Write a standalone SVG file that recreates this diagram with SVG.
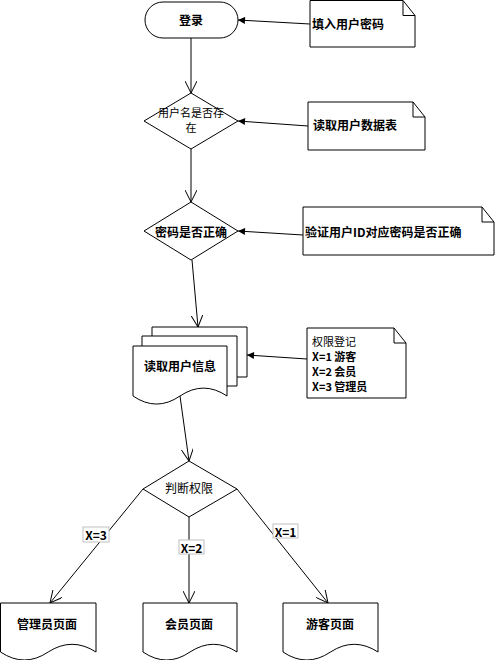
<svg xmlns="http://www.w3.org/2000/svg" width="495" height="660" viewBox="0 0 495 660">
  <style>
    .shape { fill: #ffffff; stroke: #000000; stroke-width: 1; }
    .edge { fill: none; stroke: #000000; stroke-width: 1; }
    .flow { marker-end: url(#open); }
    .link { marker-end: url(#solid); }
    text { font-family: "Noto Sans CJK SC", "DejaVu Sans", sans-serif; font-size: 12px; fill: #000000; }
    .b { font-weight: bold; }
    .s { font-size: 11px; }
    .c { text-anchor: middle; dominant-baseline: central; }
    .l { dominant-baseline: central; }
    .tag { fill: #ffffff; stroke: #c0c0c0; stroke-width: 1; }
  </style>
  <defs>
    <marker id="open" viewBox="0 0 12 12" refX="12" refY="6" markerWidth="12" markerHeight="12" markerUnits="userSpaceOnUse" orient="auto">
      <path d="M0,0 L12,6 L0,12" fill="none" stroke="#000000" stroke-width="1"/>
    </marker>
    <marker id="solid" viewBox="0 0 8 8" refX="8" refY="4" markerWidth="8" markerHeight="7" markerUnits="userSpaceOnUse" orient="auto">
      <path d="M0,0 L8,4 L0,8 Z" fill="#000000"/>
    </marker>
  </defs>

  <!-- connectors -->
  <g id="connectors">
    <line class="edge flow" x1="191" y1="38" x2="191" y2="93"/>
    <line class="edge flow" x1="191" y1="149" x2="191" y2="202"/>
    <line class="edge flow" x1="192" y1="260" x2="198" y2="327"/>
    <line class="edge flow" x1="180" y1="396" x2="189" y2="461"/>
    <line class="edge flow" x1="143" y1="489" x2="50" y2="603"/>
    <line class="edge flow" x1="189" y1="517" x2="189" y2="603"/>
    <line class="edge flow" x1="237" y1="489" x2="328" y2="603"/>
    <line class="edge link" x1="310" y1="24" x2="238" y2="20"/>
    <line class="edge link" x1="308" y1="126" x2="238" y2="121"/>
    <line class="edge link" x1="303" y1="235" x2="238" y2="231"/>
    <line class="edge link" x1="307" y1="359" x2="247" y2="355"/>
    <g id="edge-labels">
      <rect class="tag" x="83" y="527" width="26" height="15"/>
      <text class="c b" x="96" y="534.5">X=3</text>
      <rect class="tag" x="179" y="540" width="25" height="14"/>
      <text class="c b" x="191.5" y="547">X=2</text>
      <rect class="tag" x="273" y="524" width="25" height="14"/>
      <text class="c b" x="285.5" y="531">X=1</text>
    </g>
  </g>

  <!-- start terminator -->
  <g id="login">
    <rect class="shape" x="145" y="2" width="93" height="36" rx="18" ry="18"/>
    <text class="c b" x="191" y="19">登录</text>
  </g>

  <g id="note-input">
    <path class="shape" d="M310,0.5 H403 L415,15.5 V47 H310 Z"/>
    <path class="edge" d="M403,0.5 V15.5 H415"/>
    <text class="l b" x="312" y="23">填入用户密码</text>
  </g>

  <g id="check-user">
    <polygon class="shape" points="191,93 238,121 191,149 144,121"/>
    <text class="c s" x="191" y="112">用户名是否存</text>
    <text class="c s" x="191" y="127">在</text>
  </g>

  <g id="note-table">
    <path class="shape" d="M308,102 H413 L425,117 V150 H308 Z"/>
    <path class="edge" d="M413,102 V117 H425"/>
    <text class="l b" x="313" y="124">读取用户数据表</text>
  </g>

  <g id="check-password">
    <polygon class="shape" points="191,202 238,231 191,260 144,231"/>
    <text class="c b" x="191" y="231">密码是否正确</text>
  </g>

  <g id="note-verify">
    <path class="shape" d="M303,207 H482 L494,222 V255 H303 Z"/>
    <path class="edge" d="M482,207 V222 H494"/>
    <text class="l b" x="305" y="231">验证用户ID对应密码是否正确</text>
  </g>

  <!-- stacked documents -->
  <g id="read-info">
    <path class="shape" d="M152,336 V327 H247 V377 H237"/>
    <path class="shape" d="M142,346 V336 H237 V386 H227"/>
    <path class="shape" d="M133,346 H227 V396 Q203.5,380.2 180,396 Q156.5,412.1 133,396 Z"/>
    <text class="c b" x="180" y="365">读取用户信息</text>
  </g>

  <g id="note-rights">
    <path class="shape" d="M307,328 H394 L406,343 V398 H307 Z"/>
    <path class="edge" d="M394,328 V343 H406"/>
    <text class="l s" x="312" y="341">权限登记</text>
    <text class="l b s" x="312" y="356">X=1 游客</text>
    <text class="l b s" x="312" y="371">X=2 会员</text>
    <text class="l b s" x="312" y="386">X=3 管理员</text>
  </g>

  <g id="check-rights">
    <polygon class="shape" points="189,461 237,489 189,517 143,489"/>
    <text class="c" x="189" y="487">判断权限</text>
  </g>

  <!-- result pages -->
  <g id="page-admin">
    <path class="shape" d="M0.5,603 H96 V652 Q72,636.6 48.2,652 Q24.4,668 0.5,652 Z"/>
    <text class="c b" x="47" y="623">管理员页面</text>
  </g>

  <g id="page-member">
    <path class="shape" d="M143,603 H237 V652 Q213.5,636.6 190,652 Q166.5,668 143,652 Z"/>
    <text class="c b" x="189" y="623">会员页面</text>
  </g>

  <g id="page-guest">
    <path class="shape" d="M283,603 H378 V652 Q354.2,636.6 330.5,652 Q306.8,668 283,652 Z"/>
    <text class="c b" x="330" y="623">游客页面</text>
  </g>
</svg>
